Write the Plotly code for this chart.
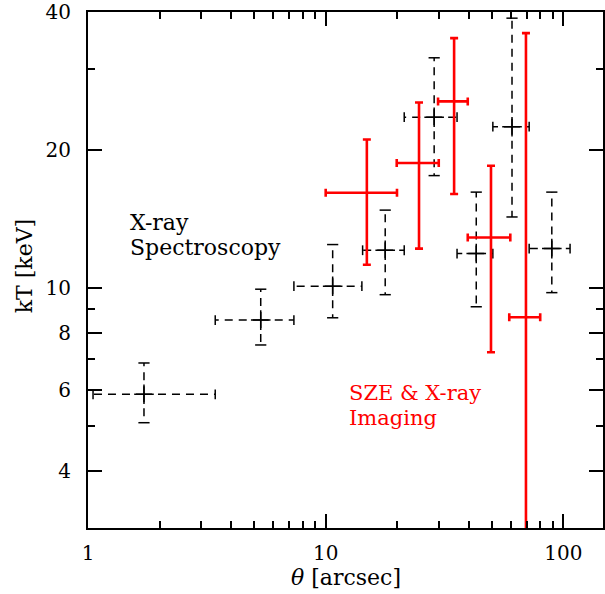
import plotly.graph_objects as go
import numpy as np

# X-ray spectroscopy (black, dashed)
theta_xs = [1.72, 5.33, 10.7, 17.8, 28.6, 43.0, 60.8, 89.4]
theta_xs_lo = [1.05, 3.43, 7.35, 14.3, 21.4, 35.7, 50.5, 71.8]
theta_xs_hi = [3.43, 7.35, 14.2, 21.4, 35.7, 50.5, 71.8, 106.7]
kT_xs = [5.87, 8.52, 10.1, 12.1, 23.6, 11.9, 22.5, 12.2]
kT_xs_lo = [5.09, 7.52, 8.62, 9.68, 17.6, 9.11, 14.3, 9.78]
kT_xs_hi = [6.87, 9.95, 12.45, 14.8, 31.8, 16.2, 38.8, 16.2]

# SZE & X-ray imaging (red, solid)
theta_sz = [14.9, 24.7, 34.7, 49.6, 69.6]
theta_sz_lo = [10.0, 19.9, 29.7, 39.6, 59.2]
theta_sz_hi = [19.95, 29.9, 39.6, 59.8, 79.9]
kT_sz = [16.15, 18.75, 25.55, 12.9, 8.64]
kT_sz_lo = [11.25, 12.2, 16.05, 7.25, 2.0]
kT_sz_hi = [21.1, 25.4, 35.1, 18.5, 36.0]

x_major = [1, 10, 100]
x_minor = [2, 3, 4, 5, 6, 7, 8, 9, 20, 30, 40, 50, 60, 70, 80, 90]
y_major = [4, 6, 8, 10, 20, 40]
y_minor = [5, 7, 9, 30]

FONT = "DejaVu Serif"
fig = go.Figure()

# dashed arms from centre outward
lx, ly = [], []
for xc, x0, x1, yc, y0, y1 in zip(theta_xs, theta_xs_lo, theta_xs_hi, kT_xs, kT_xs_lo, kT_xs_hi):
    for xe in (x0, x1):
        lx += [xc, xe, None]
        ly += [yc, yc, None]
    for ye in (y0, y1):
        lx += [xc, xc, None]
        ly += [yc, ye, None]
fig.add_trace(go.Scatter(x=lx, y=ly, mode="lines", connectgaps=False,
                         line=dict(color="black", width=1.5, dash="8px,6px"),
                         hoverinfo="skip", showlegend=False))
# caps on x ends
fig.add_trace(go.Scatter(x=theta_xs_lo + theta_xs_hi, y=kT_xs + kT_xs, mode="markers",
                         marker=dict(symbol="line-ns", size=7, color="black",
                                     line=dict(color="black", width=1.5)),
                         showlegend=False, hoverinfo="skip"))
# caps on y ends
fig.add_trace(go.Scatter(x=theta_xs + theta_xs, y=kT_xs_lo + kT_xs_hi, mode="markers",
                         marker=dict(symbol="line-ew", size=8, color="black",
                                     line=dict(color="black", width=1.5)),
                         showlegend=False, hoverinfo="skip"))
# centre crosses
fig.add_trace(go.Scatter(x=theta_xs, y=kT_xs, mode="markers",
                         marker=dict(symbol="cross-thin", size=14, color="black",
                                     line=dict(color="black", width=1.5)),
                         showlegend=False, hoverinfo="skip"))

# red error bars
fig.add_trace(go.Scatter(
    x=theta_sz, y=kT_sz, mode="markers",
    marker=dict(size=1, color="red", opacity=0),
    error_x=dict(type="data", symmetric=False,
                 array=[h - c for h, c in zip(theta_sz_hi, theta_sz)],
                 arrayminus=[c - l for l, c in zip(theta_sz_lo, theta_sz)],
                 color="red", thickness=2.6, width=4),
    error_y=dict(type="data", symmetric=False,
                 array=[h - c for h, c in zip(kT_sz_hi, kT_sz)],
                 arrayminus=[c - l for l, c in zip(kT_sz_lo, kT_sz)],
                 color="red", thickness=2.6, width=4),
    showlegend=False, hoverinfo="skip"))

axis_common = dict(
    type="log", showline=True, linewidth=2, linecolor="black", mirror="allticks",
    ticks="inside", ticklen=14, tickwidth=1.5, tickcolor="black",
    showgrid=False, zeroline=False, ticklabeloverflow="allow",
    tickfont=dict(family=FONT, size=20, color="black"),
)
fig.update_xaxes(**axis_common, range=[0, np.log10(146.8)],
                 tickmode="array", tickvals=x_major, ticktext=[str(v) for v in x_major],
                 ticklabelstandoff=6,
                 minor=dict(ticks="inside", ticklen=7, tickwidth=1.5, tickcolor="black",
                            tickmode="array", tickvals=x_minor, showgrid=False))
fig.update_yaxes(**axis_common, range=[np.log10(3.0), np.log10(40.02)],
                 tickmode="array", tickvals=y_major, ticktext=[str(v) for v in y_major],
                 ticklabelstandoff=11,
                 minor=dict(ticks="inside", ticklen=7, tickwidth=1.5, tickcolor="black",
                            tickmode="array", tickvals=y_minor, showgrid=False))

W, H = 605, 594
L, R, T, B = 88, 0, 8, 66
pw, ph = W - L - R, H - T - B

def px(xp):
    return (xp - L) / pw

def py(yp):
    return (H - B - yp) / ph

ann = [
    dict(text="<i>θ</i> [arcsec]", x=px(347), y=py(578), size=22, color="black", angle=0, xanchor="center"),
    dict(text="kT [keV]", x=px(24), y=py(264), size=22, color="black", angle=-90, xanchor="center"),
    dict(text="X-ray", x=px(128), y=py(220), size=22, color="black", angle=0, xanchor="left"),
    dict(text="Spectroscopy", x=px(128), y=py(245), size=22, color="black", angle=0, xanchor="left"),
    dict(text="SZE &amp; X-ray", x=px(348), y=py(392), size=21, color="red", angle=0, xanchor="left"),
    dict(text="Imaging", x=px(348), y=py(417), size=21, color="red", angle=0, xanchor="left"),
]
for a in ann:
    fig.add_annotation(text=a["text"], xref="paper", yref="paper", x=a["x"], y=a["y"],
                       xanchor=a["xanchor"], yanchor="middle", showarrow=False,
                       textangle=a["angle"],
                       font=dict(family=FONT, size=a["size"], color=a["color"]))

fig.update_layout(width=W, height=H, margin=dict(l=L, r=R, t=T, b=B),
                  paper_bgcolor="white", plot_bgcolor="white")
fig.write_html("out.html", config={"displayModeBar": False},
               post_script="document.body.style.margin='0';document.body.style.overflow='hidden';")
